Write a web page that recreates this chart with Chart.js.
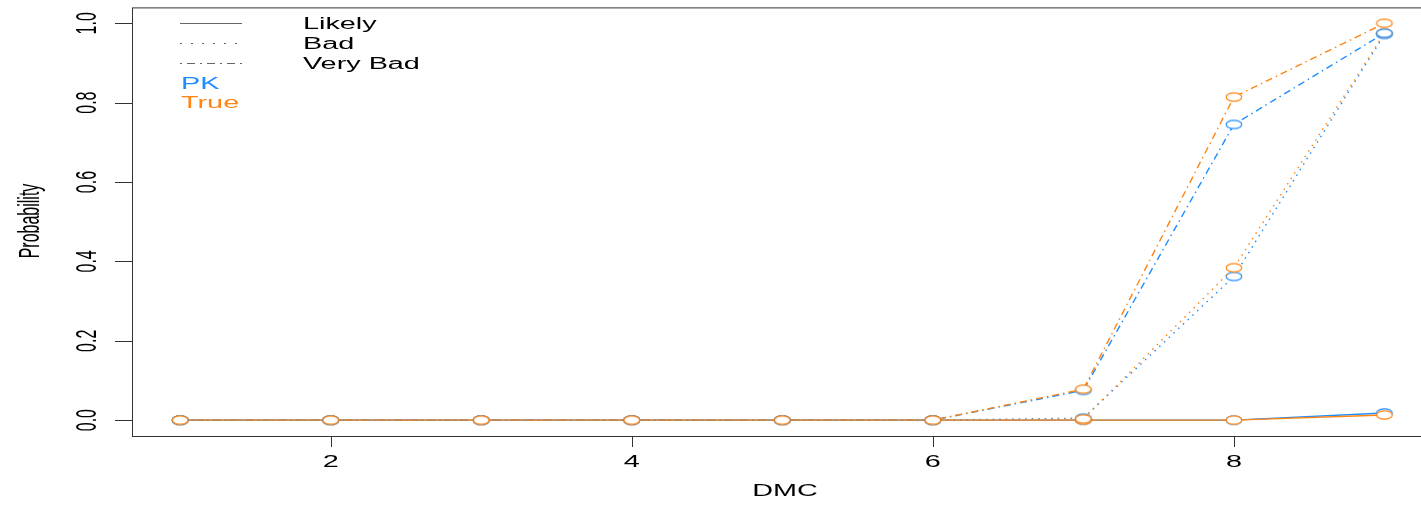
<!DOCTYPE html>
<html>
<head>
<meta charset="utf-8">
<script src="https://cdn.jsdelivr.net/npm/chart.js@4"></script>
<style>
html, body { margin: 0; padding: 0; overflow: hidden; background: #fff; }
#wrap { width: 1440px; height: 507px; }
</style>
</head>
<body>
<div id="wrap"><canvas id="chart" width="1440" height="507"></canvas></div>
<script>
// Data
const dmc = [1, 2, 3, 4, 5, 6, 7, 8, 9];
const pkLikely    = [0, 0, 0, 0, 0, 0, 0, 0, 0.018];
const pkBad       = [0, 0, 0, 0, 0, 0, 0.005, 0.362, 0.972];
const pkVeryBad   = [0, 0, 0, 0, 0, 0, 0.075, 0.745, 0.975];
const trueLikely  = [0, 0, 0, 0, 0, 0, 0, 0, 0.013];
const trueBad     = [0, 0, 0, 0, 0, 0, 0.003, 0.384, 0.975];
const trueVeryBad = [0, 0, 0, 0, 0, 0, 0.078, 0.814, 1.0];

const xTicks = [2, 4, 6, 8];
const yTicks = [0, 0.2, 0.4, 0.6, 0.8, 1.0];
const legendLines = ['Likely', 'Bad', 'Very Bad'];
const legendGroups = ['PK', 'True'];

const BLUE = '#1E8CFF';
const ORANGE = '#FF8410';
const STRETCH = 1.8;   // text in the picture is stretched sideways
const FONT = '16px "Liberation Sans", Arial, sans-serif';

const dashes = {
    Likely: [],
    Bad: [1.5, 5],
    'Very Bad': [7, 4, 1.5, 4]
};

// Ellipse marker like the squashed R circles
function makeRing(color) {
    const c = document.createElement('canvas');
    c.width = 20;
    c.height = 12;
    const g = c.getContext('2d');
    g.beginPath();
    g.ellipse(10, 6, 7.8, 4.2, 0, 0, Math.PI * 2);
    g.fillStyle = '#fff';
    g.fill();
    g.lineWidth = 1.2;
    g.strokeStyle = color;
    g.stroke();
    return c;
}
const blueRing = makeRing(BLUE);
const orangeRing = makeRing(ORANGE);

function series(label, values, color, ring, dash) {
    return {
        label: label,
        data: dmc.map((x, i) => ({ x: x, y: values[i] })),
        borderColor: color,
        borderWidth: 1.4,
        borderDash: dash,
        pointStyle: ring,
        pointRadius: 6,
        fill: false,
        tension: 0
    };
}

// Chart.js draws the first dataset on top: R order reversed
const datasets = [
    series('True Very Bad', trueVeryBad, ORANGE, orangeRing, dashes['Very Bad']),
    series('PK Very Bad', pkVeryBad, BLUE, blueRing, dashes['Very Bad']),
    series('True Bad', trueBad, ORANGE, orangeRing, dashes.Bad),
    series('PK Bad', pkBad, BLUE, blueRing, dashes.Bad),
    series('True Likely', trueLikely, ORANGE, orangeRing, dashes.Likely),
    series('PK Likely', pkLikely, BLUE, blueRing, dashes.Likely)
];

function stretchedText(ctx, text, x, y, color, rotate, align) {
    ctx.save();
    ctx.translate(x, y);
    ctx.scale(STRETCH, 1);
    if (rotate) ctx.rotate(-Math.PI / 2);
    ctx.font = FONT;
    ctx.fillStyle = color;
    ctx.textAlign = align || 'center';
    ctx.textBaseline = 'middle';
    ctx.fillText(text, 0, 0);
    ctx.restore();
}

// Frame, ticks, labels and legend in base R style
const rStyle = {
    id: 'rStyle',
    afterDraw(chart) {
        const ctx = chart.ctx;
        const a = chart.chartArea;
        const xs = chart.scales.x;
        const ys = chart.scales.y;

        ctx.save();
        ctx.strokeStyle = '#333';
        ctx.lineWidth = 1;
        ctx.strokeRect(a.left + 0.5, a.top + 0.5, a.right - a.left, a.bottom - a.top);

        // x ticks
        ctx.beginPath();
        xTicks.forEach(v => {
            const px = Math.round(xs.getPixelForValue(v)) + 0.5;
            ctx.moveTo(px, a.bottom);
            ctx.lineTo(px, a.bottom + 11);
        });
        // y ticks
        yTicks.forEach(v => {
            const py = Math.round(ys.getPixelForValue(v)) + 0.5;
            ctx.moveTo(a.left - 17, py);
            ctx.lineTo(a.left, py);
        });
        ctx.stroke();
        ctx.restore();

        xTicks.forEach(v => {
            stretchedText(ctx, String(v), xs.getPixelForValue(v), 463, '#000', false);
        });
        yTicks.forEach(v => {
            stretchedText(ctx, v.toFixed(1), 88, ys.getPixelForValue(v), '#000', true);
        });

        stretchedText(ctx, 'DMC', 785, 492, '#000', false);
        stretchedText(ctx, 'Probability', 31, 221, '#000', true);

        // legend
        const rowY = [23, 43, 63];
        legendLines.forEach((name, i) => {
            ctx.save();
            ctx.strokeStyle = '#666';
            ctx.lineWidth = 1.2;
            ctx.setLineDash(name === 'Bad' ? [2, 9] : name === 'Very Bad' ? [2, 5, 8, 5] : []);
            ctx.beginPath();
            ctx.moveTo(180, rowY[i] + 0.5);
            ctx.lineTo(242, rowY[i] + 0.5);
            ctx.stroke();
            ctx.restore();
            stretchedText(ctx, name, 303, rowY[i] + 2, '#000', false, 'left');
        });
        stretchedText(ctx, legendGroups[0], 181, 85, BLUE, false, 'left');
        stretchedText(ctx, legendGroups[1], 181, 104, ORANGE, false, 'left');
    }
};

new Chart(document.getElementById('chart'), {
    type: 'line',
    data: { datasets: datasets },
    options: {
        responsive: false,
        animation: false,
        events: [],
        layout: {
            padding: { left: 132, right: 4, top: 6, bottom: 71 }
        },
        plugins: {
            legend: { display: false },
            tooltip: { enabled: false }
        },
        scales: {
            x: { type: 'linear', min: 0.68, max: 9.32, display: false },
            y: { type: 'linear', min: -0.04, max: 1.04, display: false }
        }
    },
    plugins: [rStyle]
});
</script>
</body>
</html>
